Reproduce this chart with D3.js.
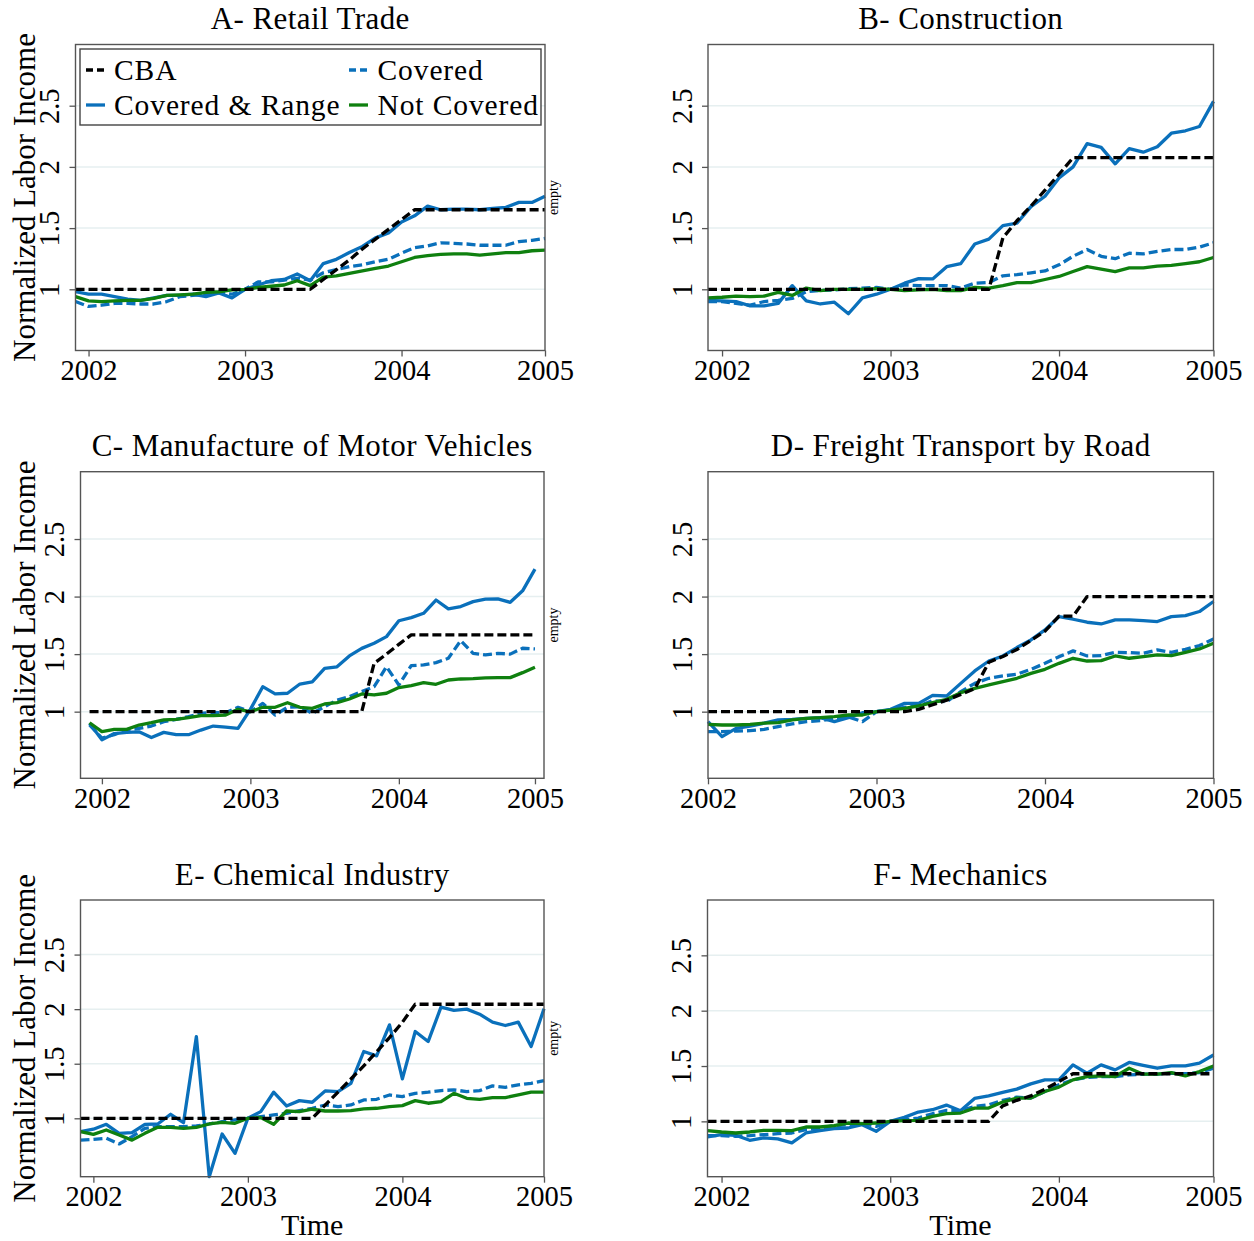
<!DOCTYPE html>
<html>
<head>
<meta charset="utf-8">
<script src="https://cdn.jsdelivr.net/npm/d3@7"></script>
<style>
  body { margin: 0; background: #ffffff; }
  svg { display: block; }
</style>
</head>
<body>
<svg id="chart" width="1254" height="1241"></svg>
<script>
// ---- Data -------------------------------------------------------------
// Month index: 0 = January 2002. Most sectors start in December 2001.
const monthsFromDec2001 = d3.range(-1, 36);
const monthsFromJan2002 = d3.range(0, 37);
const yearLabels = ["2002", "2003", "2004", "2005"];
const seriesNames = ["CBA", "Covered", "Covered & Range", "Not Covered"];
const yTickValues = [1, 1.5, 2, 2.5];

// A - Retail Trade
const retailCBA = [1,1,1,1,1,1,1,1,1,1,1,1,1,1,1,1,1,1,1,
  1.08,1.16,1.24,1.33,1.41,1.49,1.57,1.65,
  1.65,1.65,1.65,1.65,1.65,1.65,1.65,1.65,1.65,1.65];
const retailCovered = [0.90,0.86,0.87,0.885,0.885,0.88,0.88,0.90,0.94,0.95,0.96,0.97,0.96,
  1.0,1.06,1.06,1.075,1.09,1.075,1.135,1.16,1.185,1.2,1.225,1.245,
  1.295,1.34,1.355,1.38,1.375,1.37,1.36,1.36,1.36,1.39,1.40,1.415];
const retailRange = [0.98,0.96,0.96,0.94,0.92,0.91,0.93,0.95,0.95,0.96,0.94,0.97,0.93,
  1.0,1.035,1.07,1.08,1.125,1.07,1.21,1.245,1.30,1.35,1.42,1.46,
  1.55,1.60,1.68,1.65,1.655,1.655,1.65,1.66,1.67,1.71,1.71,1.76];
const retailNotCovered = [0.94,0.905,0.90,0.905,0.91,0.91,0.925,0.95,0.955,0.96,0.975,0.98,0.995,
  1.0,1.015,1.025,1.035,1.07,1.03,1.10,1.11,1.13,1.15,1.17,1.19,
  1.225,1.26,1.275,1.285,1.29,1.29,1.28,1.29,1.30,1.30,1.315,1.32];

// B - Construction
const constructionCBA = [1,1,1,1,1,1,1,1,1,1,1,1,1,1,1,1,1,1,1,1,1,
  1.42,1.56,1.68,1.81,1.94,
  2.075,2.075,2.075,2.075,2.075,2.075,2.075,2.075,2.075,2.075,2.075];
const constructionCovered = [0.90,0.90,0.885,0.87,0.90,0.91,0.925,0.98,0.99,0.995,1.005,1.01,1.015,
  1.0,1.035,1.03,1.03,1.03,1.01,1.05,1.055,1.11,1.12,1.135,1.15,
  1.2,1.27,1.325,1.27,1.25,1.295,1.29,1.31,1.325,1.325,1.345,1.38];
const constructionRange = [0.91,0.905,0.90,0.865,0.865,0.885,1.03,0.905,0.88,0.895,0.80,0.93,0.96,
  1.0,1.05,1.087,1.085,1.185,1.21,1.37,1.41,1.52,1.54,1.675,1.76,
  1.91,2.0,2.19,2.16,2.025,2.15,2.12,2.165,2.275,2.295,2.33,2.535];
const constructionNotCovered = [0.93,0.935,0.945,0.94,0.945,0.975,0.95,1.01,0.99,1.0,1.0,1.0,1.005,
  1.0,0.99,0.995,1.0,0.99,0.99,1.015,1.01,1.03,1.055,1.055,1.08,
  1.105,1.145,1.185,1.165,1.145,1.175,1.175,1.19,1.195,1.21,1.225,1.26];

// C - Manufacture of Motor Vehicles
const vehiclesCBA = [1,1,1,1,1,1,1,1,1,1,1,1,1,1,1,1,1,1,1,1,1,1,1,
  1.42,1.50,1.585,
  1.667,1.667,1.667,1.667,1.667,1.667,1.667,1.667,1.667,1.667,1.667];
const vehiclesCovered = [0.885,0.77,0.80,0.84,0.855,0.875,0.913,0.933,0.957,0.985,0.994,0.99,1.038,
  1.0,1.072,0.971,1.038,1.043,0.986,1.043,1.10,1.13,1.174,1.217,1.39,
  1.232,1.40,1.406,1.426,1.464,1.617,1.507,1.493,1.507,1.50,1.551,1.545];
const vehiclesRange = [0.90,0.755,0.81,0.82,0.825,0.775,0.82,0.80,0.80,0.84,0.875,0.865,0.855,
  1.02,1.217,1.155,1.16,1.24,1.258,1.377,1.39,1.484,1.55,1.594,1.652,
  1.79,1.817,1.855,1.97,1.893,1.913,1.956,1.977,1.98,1.95,2.05,2.238];
const vehiclesNotCovered = [0.904,0.826,0.846,0.846,0.884,0.904,0.928,0.933,0.948,0.965,0.965,0.971,1.02,
  1.0,1.038,1.038,1.078,1.038,1.029,1.067,1.078,1.11,1.154,1.145,1.16,
  1.209,1.226,1.252,1.238,1.275,1.284,1.287,1.293,1.296,1.296,1.339,1.386];

// D - Freight Transport by Road (January 2002 to January 2005)
const freightCBA = [1,1,1,1,1,1,1,1,1,1,1,1,1,1,1,
  1.02,1.06,1.10,1.15,1.20,1.43,1.48,1.54,1.62,1.70,1.83,1.83,
  2.0,2.0,2.0,2.0,2.0,2.0,2.0,2.0,2.0,2.0];
const freightCovered = [0.826,0.826,0.832,0.835,0.846,0.87,0.893,0.913,0.922,0.942,0.955,0.913,1.0,
  1.014,1.038,1.05,1.096,1.087,1.174,1.246,1.29,1.31,1.325,1.368,1.42,
  1.478,1.528,1.484,1.487,1.516,1.513,1.507,1.536,1.516,1.542,1.574,1.632];
const freightRange = [0.913,0.783,0.855,0.875,0.90,0.928,0.933,0.942,0.948,0.913,0.948,0.991,1.0,
  1.02,1.072,1.072,1.142,1.136,1.246,1.354,1.44,1.484,1.557,1.623,1.71,
  1.826,1.803,1.777,1.762,1.797,1.797,1.791,1.783,1.826,1.835,1.87,1.957];
const freightNotCovered = [0.89,0.884,0.884,0.89,0.90,0.904,0.928,0.942,0.948,0.957,0.971,0.971,1.0,
  1.014,1.029,1.05,1.078,1.107,1.165,1.203,1.232,1.261,1.29,1.333,1.368,
  1.42,1.464,1.44,1.443,1.484,1.464,1.478,1.493,1.487,1.516,1.545,1.594];

// E - Chemical Industry
const chemicalCBA = [1,1,1,1,1,1,1,1,1,1,1,1,1,1,1,1,1,1,1,
  1.12,1.24,1.36,1.48,1.61,1.74,1.88,
  2.045,2.045,2.045,2.045,2.045,2.045,2.045,2.045,2.045,2.045,2.045];
const chemicalCovered = [0.80,0.807,0.817,0.765,0.832,0.908,0.924,0.924,0.924,0.93,0.948,0.969,0.985,
  1.0,1.015,1.031,1.046,1.07,1.092,1.122,1.107,1.122,1.168,1.174,1.214,
  1.199,1.229,1.239,1.254,1.26,1.245,1.254,1.297,1.284,1.306,1.321,1.346];
const chemicalRange = [0.878,0.90,0.945,0.862,0.868,0.945,0.948,1.037,0.96,1.749,0.465,0.856,0.679,
  1.0,1.061,1.239,1.113,1.162,1.147,1.251,1.245,1.321,1.612,1.572,1.856,
  1.361,1.795,1.703,2.018,1.988,2.0,1.954,1.881,1.85,1.881,1.657,2.003];
const chemicalNotCovered = [0.878,0.853,0.893,0.847,0.80,0.862,0.917,0.917,0.908,0.917,0.948,0.963,0.954,
  1.0,1.006,0.945,1.067,1.061,1.083,1.067,1.067,1.07,1.086,1.092,1.107,
  1.116,1.162,1.138,1.153,1.229,1.183,1.174,1.19,1.19,1.214,1.239,1.239];

// F - Mechanics
const mechanicsCBA = [1,1,1,1,1,1,1,1,1,1,1,1,1,1,1,1,1,1,1,1,1,
  1.14,1.19,1.23,1.29,1.36,
  1.43,1.43,1.43,1.43,1.43,1.43,1.43,1.43,1.43,1.43,1.43];
const mechanicsCovered = [0.871,0.871,0.865,0.871,0.88,0.889,0.895,0.925,0.94,0.961,0.97,0.979,0.955,
  1.0,1.015,1.03,1.069,1.099,1.096,1.135,1.15,1.189,1.219,1.21,1.27,
  1.33,1.375,1.396,1.405,1.405,1.42,1.426,1.426,1.435,1.43,1.441,1.48];
const mechanicsRange = [0.859,0.88,0.874,0.829,0.85,0.841,0.805,0.895,0.916,0.934,0.94,0.97,0.91,
  1.0,1.036,1.084,1.105,1.147,1.096,1.207,1.231,1.261,1.291,1.339,1.375,
  1.375,1.51,1.435,1.51,1.465,1.532,1.505,1.48,1.502,1.502,1.526,1.60];
const mechanicsNotCovered = [0.916,0.904,0.895,0.904,0.919,0.919,0.916,0.949,0.949,0.961,0.985,0.979,0.985,
  1.0,1.006,1.009,1.045,1.069,1.075,1.12,1.12,1.174,1.21,1.21,1.27,
  1.309,1.375,1.405,1.411,1.405,1.48,1.426,1.426,1.441,1.411,1.45,1.501];

// ---- Styling ----------------------------------------------------------
const FONT = "'Liberation Serif', 'Times New Roman', serif";
const BLUE = "#0a70bb";
const GREEN = "#0f800f";
const FRAME = "#555555";
const GRID = "#e6eff0";

// Series styles, in drawing order (first drawn at the bottom).
const seriesStyles = {
  "Covered & Range": { color: BLUE, dash: null },
  "Covered": { color: BLUE, dash: "9,4" },
  "Not Covered": { color: GREEN, dash: null },
  "CBA": { color: "#000000", dash: "9,4" }
};
const drawOrder = ["Covered & Range", "Covered", "Not Covered", "CBA"];

// ---- Panel layout -----------------------------------------------------
const panels = [
  { title: "A- Retail Trade", months: monthsFromDec2001,
    values: { "CBA": retailCBA, "Covered": retailCovered, "Covered & Range": retailRange, "Not Covered": retailNotCovered },
    box: { x0: 75.5, x1: 545, y0: 44.5, y1: 350.5 },
    xDomain: [-1, 35], yDomain: [0.5, 3.0], xTicks: [0, 12, 24, 35],
    yTitle: true, emptyNote: true, legend: true, xTitle: false },
  { title: "B- Construction", months: monthsFromDec2001,
    values: { "CBA": constructionCBA, "Covered": constructionCovered, "Covered & Range": constructionRange, "Not Covered": constructionNotCovered },
    box: { x0: 708, x1: 1213.5, y0: 44.5, y1: 350.5 },
    xDomain: [-1, 35], yDomain: [0.5, 3.0], xTicks: [0, 12, 24, 35],
    yTitle: false, emptyNote: false, legend: false, xTitle: false },
  { title: "C- Manufacture of Motor Vehicles", months: monthsFromDec2001,
    values: { "CBA": vehiclesCBA, "Covered": vehiclesCovered, "Covered & Range": vehiclesRange, "Not Covered": vehiclesNotCovered },
    box: { x0: 80.5, x1: 544, y0: 471.7, y1: 778.3 },
    xDomain: [-1.73, 35.73], yDomain: [0.421, 3.085], xTicks: [0, 12, 24, 35],
    yTitle: true, emptyNote: true, legend: false, xTitle: false },
  { title: "D- Freight Transport by Road", months: monthsFromJan2002,
    values: { "CBA": freightCBA, "Covered": freightCovered, "Covered & Range": freightRange, "Not Covered": freightNotCovered },
    box: { x0: 708, x1: 1213.5, y0: 471.7, y1: 778.3 },
    xDomain: [0, 36], yDomain: [0.421, 3.085], xTicks: [0, 12, 24, 36],
    yTitle: false, emptyNote: false, legend: false, xTitle: false },
  { title: "E- Chemical Industry", months: monthsFromDec2001,
    values: { "CBA": chemicalCBA, "Covered": chemicalCovered, "Covered & Range": chemicalRange, "Not Covered": chemicalNotCovered },
    box: { x0: 80.5, x1: 544, y0: 900, y1: 1176.7 },
    xDomain: [-1, 35], yDomain: [0.465, 3.0], xTicks: [0, 12, 24, 35],
    yTitle: true, emptyNote: true, legend: false, xTitle: true },
  { title: "F- Mechanics", months: monthsFromDec2001,
    values: { "CBA": mechanicsCBA, "Covered": mechanicsCovered, "Covered & Range": mechanicsRange, "Not Covered": mechanicsNotCovered },
    box: { x0: 707.5, x1: 1213.5, y0: 900, y1: 1176.7 },
    xDomain: [-1, 35], yDomain: [0.5, 3.0], xTicks: [0, 12, 24, 35],
    yTitle: false, emptyNote: false, legend: false, xTitle: true }
];

const svg = d3.select("#chart")
  .attr("font-family", FONT)
  .style("background", "#ffffff");

function styleAxis(g) {
  g.attr("font-family", FONT);
  g.select(".domain").remove();
  g.selectAll(".tick line").attr("stroke", FRAME).attr("stroke-width", 1.3);
  g.selectAll(".tick text").attr("fill", "#000");
}

function drawPanel(p) {
  const { x0, x1, y0, y1 } = p.box;
  const x = d3.scaleLinear().domain(p.xDomain).range([x0, x1]);
  const y = d3.scaleLinear().domain(p.yDomain).range([y1, y0]);
  const g = svg.append("g");

  // horizontal grid lines
  g.append("g").selectAll("line").data(yTickValues).join("line")
    .attr("x1", x0).attr("x2", x1)
    .attr("y1", d => y(d)).attr("y2", d => y(d))
    .attr("stroke", GRID).attr("stroke-width", 1.5);

  // series lines
  drawOrder.forEach(name => {
    const st = seriesStyles[name];
    const vals = p.values[name];
    const line = d3.line().x((d, i) => x(p.months[i])).y(d => y(d));
    g.append("path")
      .datum(vals)
      .attr("d", line)
      .attr("fill", "none")
      .attr("stroke", st.color)
      .attr("stroke-width", 3.3)
      .attr("stroke-linejoin", "round")
      .attr("stroke-dasharray", st.dash);
  });

  // plot frame
  g.append("rect")
    .attr("x", x0).attr("y", y0)
    .attr("width", x1 - x0).attr("height", y1 - y0)
    .attr("fill", "none").attr("stroke", FRAME).attr("stroke-width", 1.4);

  // x axis
  const xAxis = g.append("g")
    .attr("transform", `translate(0,${y1})`)
    .call(d3.axisBottom(x).tickValues(p.xTicks)
      .tickFormat((d, i) => yearLabels[i]).tickSize(6));
  styleAxis(xAxis);
  xAxis.selectAll(".tick text")
    .attr("font-size", 28.5).attr("y", 29.5).attr("dy", null);

  // y axis with labels turned to read upwards
  const yAxis = g.append("g")
    .attr("transform", `translate(${x0},0)`)
    .call(d3.axisLeft(y).tickValues(yTickValues).tickFormat(d3.format("")).tickSize(6));
  styleAxis(yAxis);
  yAxis.selectAll(".tick text")
    .attr("font-size", 28.5)
    .attr("x", 0).attr("dy", null)
    .attr("text-anchor", "middle")
    .attr("transform", "translate(-16.5,0) rotate(-90)");

  // panel title
  g.append("text")
    .attr("x", (x0 + x1) / 2).attr("y", y0 - 15.5)
    .attr("text-anchor", "middle")
    .attr("font-size", 31)
    .attr("letter-spacing", 0.4)
    .text(p.title);

  if (p.yTitle) {
    g.append("text")
      .attr("transform", `translate(34.5,${(y0 + y1) / 2}) rotate(-90)`)
      .attr("text-anchor", "middle")
      .attr("font-size", 31)
      .text("Normalized Labor Income");
  }

  if (p.emptyNote) {
    g.append("text")
      .attr("transform", `translate(558,${(y0 + y1) / 2}) rotate(-90)`)
      .attr("text-anchor", "middle")
      .attr("font-size", 14)
      .text("empty");
  }

  if (p.xTitle) {
    g.append("text")
      .attr("x", (x0 + x1) / 2).attr("y", y1 + 58.3)
      .attr("text-anchor", "middle")
      .attr("font-size", 30)
      .text("Time");
  }

  if (p.legend) drawLegend(g);
}

function drawLegend(g) {
  const lg = g.append("g");
  lg.append("rect")
    .attr("x", 80).attr("y", 49).attr("width", 461).attr("height", 76)
    .attr("fill", "#ffffff").attr("stroke", "#444444").attr("stroke-width", 1.4);
  const entries = [
    { name: seriesNames[0], sx: 86, tx: 114, row: 0 },
    { name: seriesNames[1], sx: 349, tx: 377.5, row: 0 },
    { name: seriesNames[2], sx: 86, tx: 114, row: 1 },
    { name: seriesNames[3], sx: 349, tx: 377.5, row: 1 }
  ];
  const rowLineY = [70, 105];
  const rowTextY = [79.5, 115];
  entries.forEach(e => {
    const st = seriesStyles[e.name];
    lg.append("line")
      .attr("x1", e.sx).attr("x2", e.sx + 19)
      .attr("y1", rowLineY[e.row]).attr("y2", rowLineY[e.row])
      .attr("stroke", st.color).attr("stroke-width", 3.3)
      .attr("stroke-dasharray", st.dash ? "7,4" : null);
    lg.append("text")
      .attr("x", e.tx).attr("y", rowTextY[e.row])
      .attr("font-size", 29.5)
      .attr("letter-spacing", 0.9)
      .text(e.name);
  });
}

panels.forEach(drawPanel);
</script>
</body>
</html>
